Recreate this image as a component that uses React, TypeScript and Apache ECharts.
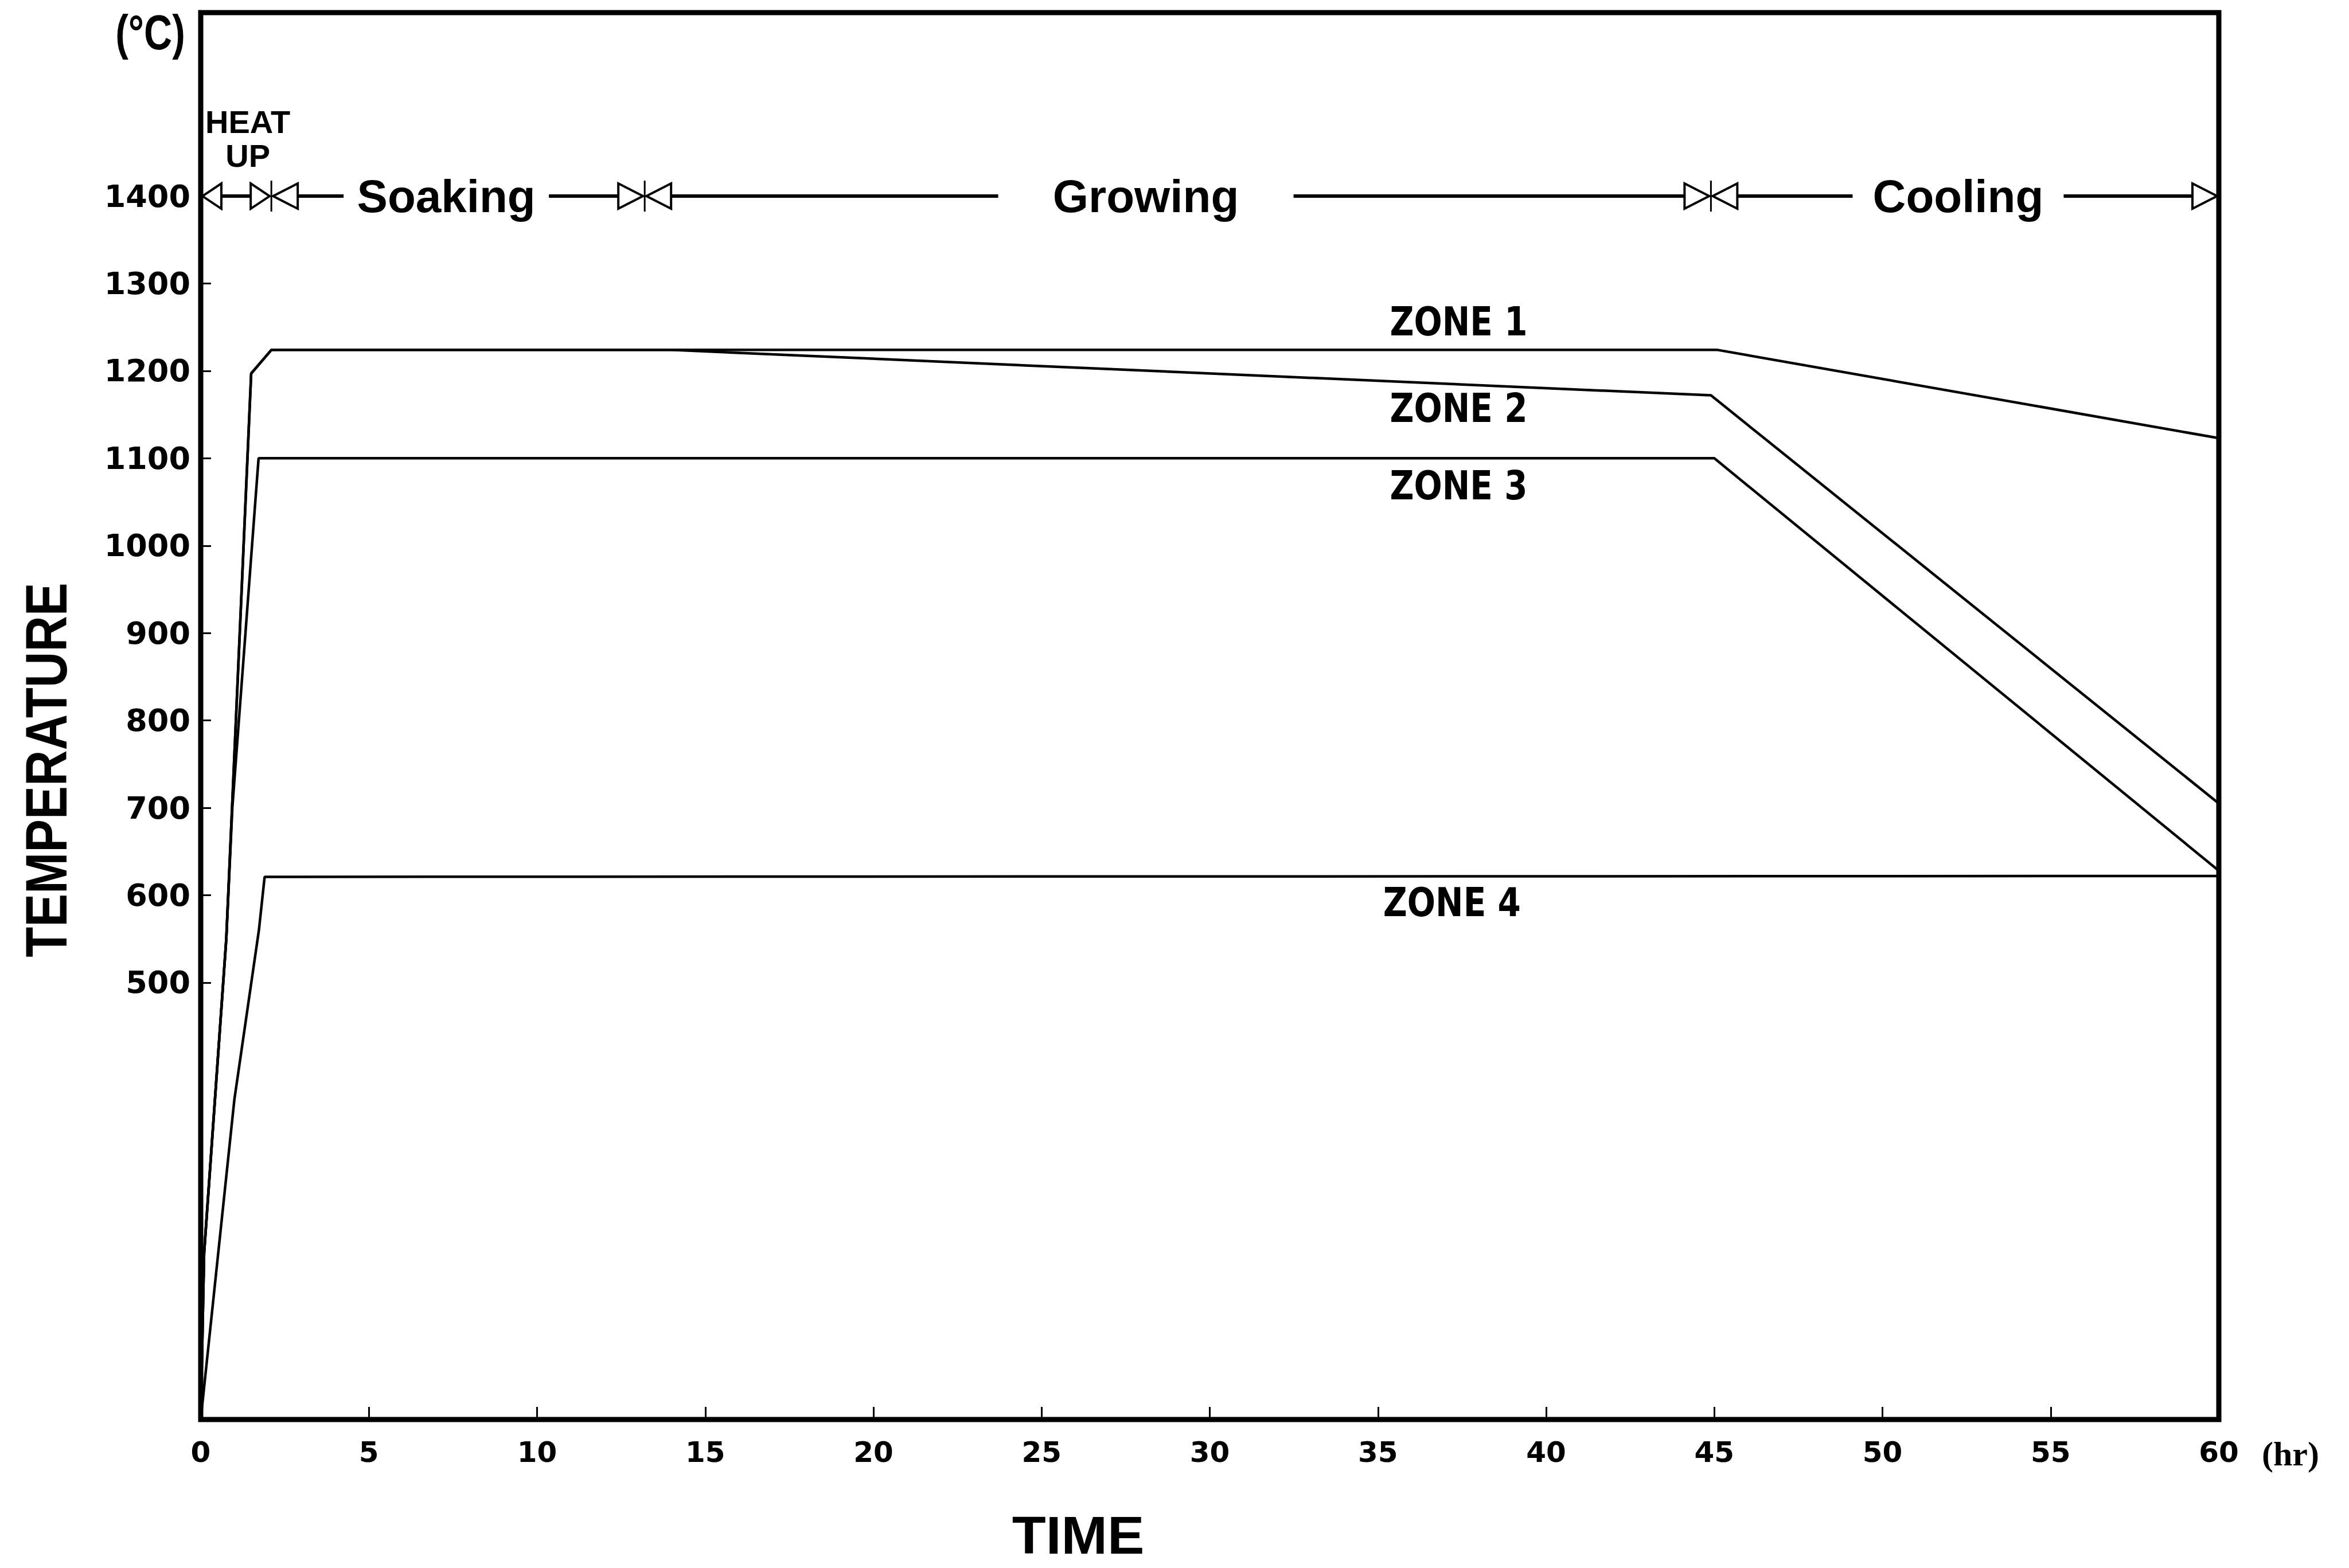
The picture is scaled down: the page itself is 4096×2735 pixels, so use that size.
import React, { useEffect, useRef } from 'react';
import * as echarts from 'echarts';

// ---------------- data ----------------
const zone1Hours = [0, 0.1, 0.76, 1.5, 2.1, 45.1, 60];
const zone1Temps = [0, 190, 550, 1197, 1224, 1224, 1123];

const zone2Hours = [0, 0.1, 0.76, 1.5, 2.1, 14.0, 44.9, 60];
const zone2Temps = [0, 190, 550, 1197, 1224, 1224, 1172, 705];

const zone3Hours = [0, 0.1, 0.76, 0.94, 1.72, 45.0, 60];
const zone3Temps = [0, 190, 550, 700, 1100, 1100, 628];

const zone4Hours = [0, 1.0, 1.73, 1.9, 60];
const zone4Temps = [0, 366, 560, 621, 622];

const zoneNames = ['ZONE 1', 'ZONE 2', 'ZONE 3', 'ZONE 4'];
const zoneLabelHours = [37.4, 37.4, 37.4, 37.2];
const zoneLabelTemps = [1256, 1157, 1069, 592];

const phaseNames = ['HEAT\nUP', 'Soaking', 'Growing', 'Cooling'];
const phaseStartHours = [0, 2.1, 13.2, 44.9];
const phaseEndHours = [2.1, 13.2, 44.9, 60];
const phaseLabelHours = [1.4, 7.3, 28.1, 52.25];
const phaseLevelTemp = 1400;

const xMin = 0;
const xMax = 60;
const xStep = 5;
const yMin = 0;
const yMax = 1610;
const yTickValues = [500, 600, 700, 800, 900, 1000, 1100, 1200, 1300, 1400];

// ---------------- styles ----------------
const BLACK = '#000';
const phaseGapPx = [0, 358, 515, 368];
const GRID = { left: 350, right: 227, top: 22, bottom: 259 };

function pairs(xs: number[], ys: number[]) {
  return xs.map((x, i) => [x, ys[i]]);
}

export default function App() {
  const ref = useRef<HTMLDivElement>(null);

  useEffect(() => {
    if (!ref.current) return;
    const chart = echarts.init(ref.current, undefined, { renderer: 'svg' });

    const zoneSeries = [
      pairs(zone1Hours, zone1Temps),
      pairs(zone2Hours, zone2Temps),
      pairs(zone3Hours, zone3Temps),
      pairs(zone4Hours, zone4Temps),
    ].map((data, i) => ({
      name: zoneNames[i],
      type: 'line',
      data,
      symbol: 'none',
      silent: true,
      lineStyle: { color: BLACK, width: 4.5 },
      z: 3,
    }));

    const phaseSeries = {
      type: 'custom',
      coordinateSystem: 'cartesian2d',
      silent: true,
      clip: false,
      z: 5,
      encode: { x: [0, 2], y: 1 },
      data: phaseStartHours.map((s, i) => [s, phaseLevelTemp, phaseEndHours[i], phaseLabelHours[i]]),
      renderItem: (params: any, api: any) => {
        const i = params.dataIndex;
        const s = api.value(0);
        const e = api.value(2);
        const lx = api.value(3);
        const p0 = api.coord([s, phaseLevelTemp]);
        const p1 = api.coord([e, phaseLevelTemp]);
        const y = p0[1];
        const first = i === 0;
        const last = i === phaseNames.length - 1;
        const aw = first ? 36 : 46;
        const ah = 22;
        const children: any[] = [];
        const triStyle = { fill: '#fff', stroke: BLACK, lineWidth: 4 };
        const lineSt = { stroke: BLACK, lineWidth: 6 };
        children.push({
          type: 'polygon',
          shape: { points: [[p0[0] + 3, y], [p0[0] + aw, y - ah], [p0[0] + aw, y + ah]] },
          style: triStyle,
        });
        children.push({
          type: 'polygon',
          shape: { points: [[p1[0] - 3, y], [p1[0] - aw, y - ah], [p1[0] - aw, y + ah]] },
          style: triStyle,
        });
        const a = p0[0] + aw;
        const b = p1[0] - aw;
        const c = api.coord([lx, phaseLevelTemp])[0];
        if (first) {
          children.push({ type: 'line', shape: { x1: a, y1: y, x2: b, y2: y }, style: lineSt });
          children.push({
            type: 'text',
            x: c,
            y: y - 100,
            style: {
              text: phaseNames[i],
              font: 'bold 56px "Liberation Sans", Arial, sans-serif',
              fill: BLACK,
              align: 'center',
              verticalAlign: 'middle',
              textAlign: 'center',
              textVerticalAlign: 'middle',
              lineHeight: 59,
            },
          });
        } else {
          const g = phaseGapPx[i] / 2;
          children.push({ type: 'line', shape: { x1: a, y1: y, x2: c - g, y2: y }, style: lineSt });
          children.push({ type: 'line', shape: { x1: c + g, y1: y, x2: b, y2: y }, style: lineSt });
          children.push({
            type: 'text',
            x: c,
            y: y,
            style: {
              text: phaseNames[i],
              font: 'bold 80px "Liberation Sans", Arial, sans-serif',
              fill: BLACK,
              align: 'center',
              verticalAlign: 'middle',
              textAlign: 'center',
              textVerticalAlign: 'middle',
            },
          });
        }
        if (!last) {
          children.push({
            type: 'line',
            shape: { x1: p1[0], y1: y - 27, x2: p1[0], y2: y + 27 },
            style: { stroke: BLACK, lineWidth: 3 },
          });
        }
        return { type: 'group', children };
      },
    };

    const zoneLabelSeries = {
      type: 'custom',
      coordinateSystem: 'cartesian2d',
      silent: true,
      z: 6,
      encode: { x: 0, y: 1 },
      data: zoneLabelHours.map((h, i) => [h, zoneLabelTemps[i]]),
      renderItem: (params: any, api: any) => {
        const p = api.coord([api.value(0), api.value(1)]);
        return {
          type: 'text',
          x: p[0],
          y: p[1],
          scaleY: 1.2,
          style: {
            text: zoneNames[params.dataIndex],
            font: 'bold 58px "DejaVu Sans", sans-serif',
            fill: BLACK,
            align: 'center',
            verticalAlign: 'middle',
            textAlign: 'center',
            textVerticalAlign: 'middle',
          },
        };
      },
    };

    const option: any = {
      animation: false,
      backgroundColor: '#fff',
      grid: {
        ...GRID,
        show: true,
        borderColor: BLACK,
        borderWidth: 9,
        backgroundColor: 'transparent',
        containLabel: false,
      },
      xAxis: {
        type: 'value',
        min: xMin,
        max: xMax,
        interval: xStep,
        splitLine: { show: false },
        axisLine: { show: false },
        axisTick: { show: true, inside: true, length: 22, lineStyle: { color: BLACK, width: 3 } },
        axisLabel: {
          show: true,
          margin: 32,
          color: BLACK,
          fontFamily: '"DejaVu Sans", sans-serif',
          fontWeight: 'bold',
          fontSize: 50,
          formatter: (v: number) => String(v),
        },
      },
      yAxis: {
        type: 'value',
        min: yMin,
        max: yMax,
        splitLine: { show: false },
        axisLine: { show: false },
        axisTick: {
          show: true,
          inside: true,
          length: 18,
          customValues: yTickValues,
          lineStyle: { color: BLACK, width: 3 },
        },
        axisLabel: {
          show: true,
          margin: 18,
          customValues: yTickValues,
          color: BLACK,
          fontFamily: '"DejaVu Sans", sans-serif',
          fontWeight: 'bold',
          fontSize: 54,
          formatter: (v: number) => String(v),
        },
      },
      graphic: [
        {
          type: 'text',
          x: 262,
          y: 56,
          scaleY: 1.25,
          style: {
            text: '(°C)',
            font: 'bold 68px "Liberation Sans", Arial, sans-serif',
            fill: BLACK,
            textAlign: 'center',
            textVerticalAlign: 'middle',
            align: 'center',
            verticalAlign: 'middle',
          },
        },
        {
          type: 'text',
          x: 80,
          y: 1343,
          rotation: Math.PI / 2,
          scaleX: 0.85,
          style: {
            text: 'TEMPERATURE',
            font: 'bold 102px "Liberation Sans", Arial, sans-serif',
            fill: BLACK,
            textAlign: 'center',
            textVerticalAlign: 'middle',
            align: 'center',
            verticalAlign: 'middle',
          },
        },
        {
          type: 'text',
          x: 1880,
          y: 2678,
          scaleX: 1.15,
          scaleY: 1.1,
          style: {
            text: 'TIME',
            font: 'bold 84px "Liberation Sans", Arial, sans-serif',
            fill: BLACK,
            textAlign: 'center',
            textVerticalAlign: 'middle',
            align: 'center',
            verticalAlign: 'middle',
          },
        },
        {
          type: 'text',
          x: 3994,
          y: 2536,
          style: {
            text: '(hr)',
            font: 'bold 60px "Liberation Serif", "DejaVu Serif", serif',
            fill: BLACK,
            textAlign: 'center',
            textVerticalAlign: 'middle',
            align: 'center',
            verticalAlign: 'middle',
          },
        },
      ],
      series: [...zoneSeries, phaseSeries, zoneLabelSeries],
    };

    chart.setOption(option);
    return () => {
      chart.dispose();
    };
  }, []);

  return (
    <div
      ref={ref}
      style={{ position: 'absolute', left: 0, top: 0, width: 4096, height: 2735, background: '#fff' }}
    />
  );
}
